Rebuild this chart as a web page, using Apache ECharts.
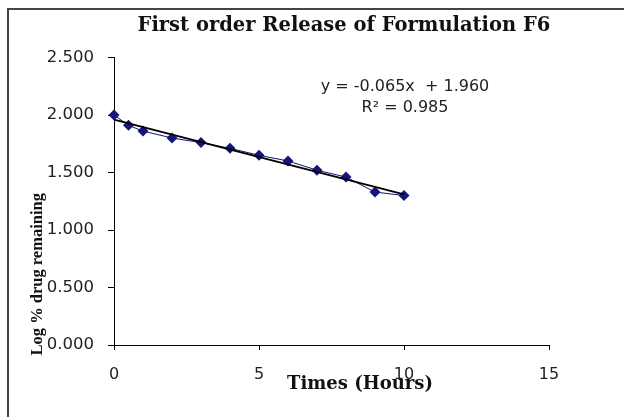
<!DOCTYPE html>
<html>
<head>
<meta charset="utf-8">
<script src="https://cdn.jsdelivr.net/npm/echarts@6/dist/echarts.min.js"></script>
<style>
  html, body { margin: 0; padding: 0; background: #fff; }
  #chart { width: 624px; height: 417px; }
</style>
</head>
<body>
<div id="chart"></div>
<script>
// time in hours and log % drug remaining
const times = [0, 0.5, 1, 2, 3, 4, 5, 6, 7, 8, 9, 10];
const logRemaining = [2.000, 1.91, 1.86, 1.80, 1.76, 1.71, 1.65, 1.60, 1.52, 1.46, 1.33, 1.30];

// linear trendline as printed on the chart
const slope = -0.065;
const intercept = 1.960;
const rSquared = 0.985;
const trendRange = [0, 10];

const myChart = echarts.init(document.getElementById("chart"));

let points = [];
for (let i = 0; i < times.length; i++) {
  points.push([times[i], logRemaining[i]]);
}
let trend = trendRange.map(function (x) {
  return [x, slope * x + intercept];
});

const sans = "DejaVu Sans";
const serif = "DejaVu Serif";

const option = {
  backgroundColor: "#fff",
  animation: false,
  title: {
    text: "First order Release of Formulation F6",
    left: 339,
    textAlign: "center",
    top: 11,
    textStyle: {
      fontFamily: serif,
      fontWeight: "bold",
      fontSize: 19.5,
      color: "#111",
    },
  },
  graphic: [
    {
      type: "rect",
      shape: { x: 8, y: 9, width: 700, height: 500 },
      style: { fill: "none", stroke: "#444", lineWidth: 2 },
      silent: true,
    },
    {
      type: "text",
      x: 405,
      y: 87,
      style: {
        text: "y = " + slope.toFixed(3) + "x  + " + intercept.toFixed(3),
        fontFamily: sans,
        fontSize: 16,
        fill: "#222",
        textAlign: "center",
        textVerticalAlign: "middle",
      },
    },
    {
      type: "text",
      x: 405,
      y: 108,
      style: {
        text: "R² = " + rSquared.toFixed(3),
        fontFamily: sans,
        fontSize: 16,
        fill: "#222",
        textAlign: "center",
        textVerticalAlign: "middle",
      },
    },
  ],
  grid: {
    left: 114,
    right: 75,
    top: 57.5,
    bottom: 72,
  },
  xAxis: {
    type: "value",
    min: 0,
    max: 15,
    interval: 5,
    name: "Times (Hours)",
    nameLocation: "middle",
    nameGap: 30,
    nameMoveOverlap: false,
    nameTextStyle: {
      fontFamily: serif,
      fontWeight: "bold",
      fontSize: 18,
      color: "#111",
      padding: [0, 0, 0, 57],
    },
    axisLine: { onZero: false, lineStyle: { color: "#000", width: 1 } },
    axisTick: { show: true, length: 5, lineStyle: { color: "#000" } },
    axisLabel: {
      margin: 22,
      fontFamily: sans,
      fontSize: 16,
      color: "#222",
    },
    splitLine: { show: false },
  },
  yAxis: {
    type: "value",
    min: 0,
    max: 2.5,
    interval: 0.5,
    name: "Log % drug remaining",
    nameLocation: "middle",
    nameRotate: 90,
    nameGap: 68,
    nameMoveOverlap: false,
    nameTextStyle: {
      fontFamily: "Liberation Serif",
      fontWeight: "bold",
      fontSize: 16.5,
      color: "#111",
      padding: [0, 146, 0, 0],
    },
    axisLine: { show: true, lineStyle: { color: "#000", width: 1 } },
    axisTick: { show: true, length: 6, lineStyle: { color: "#000" } },
    axisLabel: {
      margin: 20,
      fontFamily: sans,
      fontSize: 16.5,
      color: "#222",
      formatter: function (v) {
        return v.toFixed(3);
      },
    },
    splitLine: { show: false },
  },
  series: [
    {
      name: "Log % drug remaining",
      type: "line",
      data: points,
      symbol: "diamond",
      symbolSize: 11,
      itemStyle: { color: "#14147a" },
      lineStyle: { color: "#14147a", width: 1 },
      z: 2,
    },
    {
      name: "Linear trend",
      type: "line",
      data: trend,
      symbol: "none",
      lineStyle: { color: "#000", width: 2 },
      z: 3,
    },
  ],
};

myChart.setOption(option);
</script>
</body>
</html>
